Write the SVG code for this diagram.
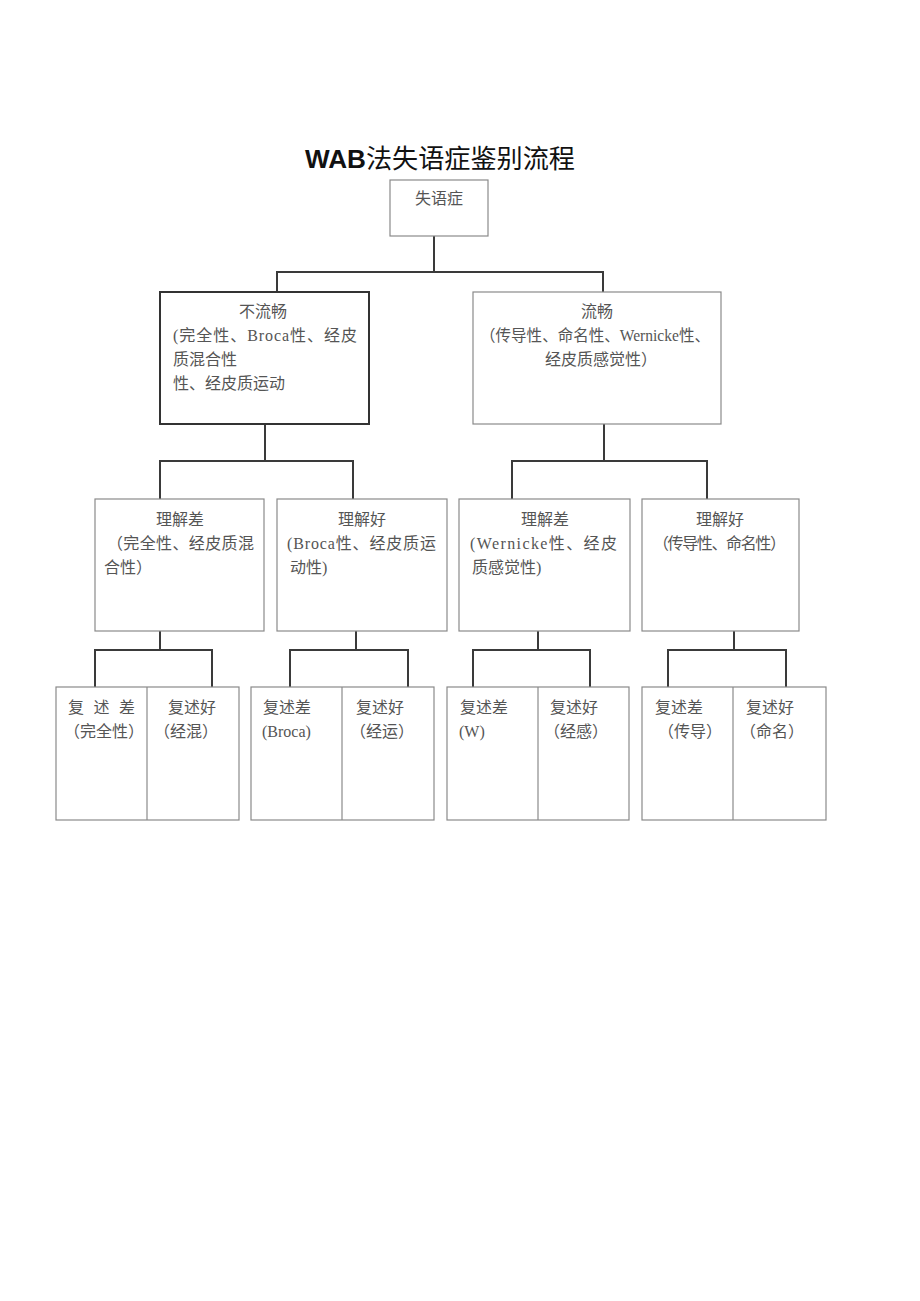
<svg xmlns="http://www.w3.org/2000/svg" width="920" height="1301" viewBox="0 0 920 1301">
<style>
.bx{fill:#fff;stroke:#8a8a8a;stroke-width:1.2}
.bk{fill:#fff;stroke:#333;stroke-width:2}
.ln{fill:none;stroke:#3a3a3a;stroke-width:2}
.t{font-family:"Liberation Serif","Noto Sans CJK SC",serif;font-size:16px;fill:#555}
.c{text-anchor:middle}
.ti{font-family:"Liberation Sans","Noto Sans CJK SC",sans-serif;font-size:26px;fill:#111}
</style>
<rect width="920" height="1301" fill="#fff"/>
<text class="ti" x="305" y="168" textLength="270" lengthAdjust="spacingAndGlyphs"><tspan font-weight="bold">WAB</tspan>法失语症鉴别流程</text>
<g id="connectors">
<path class="ln" d="M434 236V272M277 292V272H603V292"/>
<path class="ln" d="M265 424V461M160 499V461H353V499"/>
<path class="ln" d="M604 424V461M512 499V461H707V499"/>
<path class="ln" d="M160 631V650M95 687V650H212V687"/>
<path class="ln" d="M356 631V650M290 687V650H408V687"/>
<path class="ln" d="M538 631V650M473 687V650H590V687"/>
<path class="ln" d="M734 631V650M668 687V650H786V687"/>
</g>
<g id="root">
<rect class="bx" x="390" y="180" width="98" height="56"/>
<text class="t c" x="439" y="204">失语症</text>
</g>
<g id="nonfluent">
<rect class="bk" x="160" y="292" width="209" height="132"/>
<text class="t c" x="263" y="317">不流畅</text>
<text class="t" x="173" y="341" textLength="184" lengthAdjust="spacing">(完全性、Broca性、经皮</text>
<text class="t" x="173" y="365">质混合性</text>
<text class="t" x="173" y="389">性、经皮质运动</text>
</g>
<g id="fluent">
<rect class="bx" x="473" y="292" width="248" height="132"/>
<text class="t c" x="597" y="317">流畅</text>
<text class="t" x="480" y="341" textLength="230" lengthAdjust="spacingAndGlyphs">（传导性、命名性、Wernicke性、</text>
<text class="t" x="545" y="365">经皮质感觉性）</text>
</g>
<g id="c1">
<rect class="bx" x="95" y="499" width="169" height="132"/>
<text class="t c" x="180" y="525">理解差</text>
<text class="t" x="107" y="549" textLength="147" lengthAdjust="spacing">（完全性、经皮质混</text>
<text class="t" x="104" y="573">合性）</text>
</g>
<g id="c2">
<rect class="bx" x="277" y="499" width="170" height="132"/>
<text class="t c" x="362" y="525">理解好</text>
<text class="t" x="287" y="549" textLength="149" lengthAdjust="spacing">(Broca性、经皮质运</text>
<text class="t" x="290" y="573">动性)</text>
</g>
<g id="c3">
<rect class="bx" x="459" y="499" width="171" height="132"/>
<text class="t c" x="545" y="525">理解差</text>
<text class="t" x="470" y="549" textLength="147" lengthAdjust="spacing">(Wernicke性、经皮</text>
<text class="t" x="472" y="573">质感觉性)</text>
</g>
<g id="c4">
<rect class="bx" x="642" y="499" width="157" height="132"/>
<text class="t c" x="720" y="525">理解好</text>
<text class="t" x="653" y="549" textLength="133" lengthAdjust="spacing">（传导性、命名性）</text>
</g>
<g id="d1">
<rect class="bx" x="56" y="687" width="183" height="133"/>
<line class="bx" x1="147" y1="687" x2="147" y2="820"/>
<text class="t" x="68" y="713" textLength="67" lengthAdjust="spacing">复述差</text>
<text class="t" x="64" y="737">（完全性）</text>
<text class="t" x="168" y="713">复述好</text>
<text class="t" x="154" y="737">（经混）</text>
</g>
<g id="d2">
<rect class="bx" x="251" y="687" width="183" height="133"/>
<line class="bx" x1="342" y1="687" x2="342" y2="820"/>
<text class="t" x="263" y="713">复述差</text>
<text class="t" x="262" y="737">(Broca)</text>
<text class="t" x="356" y="713">复述好</text>
<text class="t" x="350" y="737">（经运）</text>
</g>
<g id="d3">
<rect class="bx" x="447" y="687" width="182" height="133"/>
<line class="bx" x1="538" y1="687" x2="538" y2="820"/>
<text class="t" x="460" y="713">复述差</text>
<text class="t" x="459" y="737">(W)</text>
<text class="t" x="550" y="713">复述好</text>
<text class="t" x="544" y="737">（经感）</text>
</g>
<g id="d4">
<rect class="bx" x="642" y="687" width="184" height="133"/>
<line class="bx" x1="733" y1="687" x2="733" y2="820"/>
<text class="t" x="655" y="713">复述差</text>
<text class="t" x="658" y="737">（传导）</text>
<text class="t" x="746" y="713">复述好</text>
<text class="t" x="740" y="737">（命名）</text>
</g>
</svg>
